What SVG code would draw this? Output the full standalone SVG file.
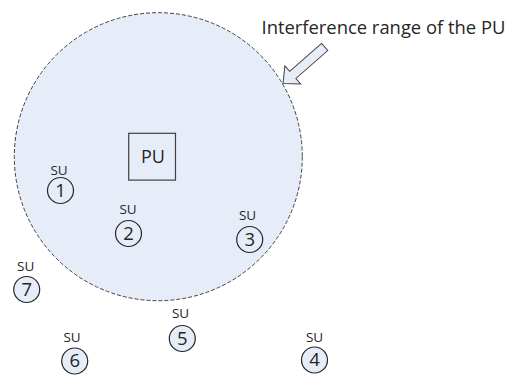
<svg xmlns="http://www.w3.org/2000/svg" width="509" height="375" viewBox="0 0 509 375">
<style>
  text { font-family: "Open Sans", "Noto Sans", "Liberation Sans", sans-serif; fill: #262626; }
  .range { fill: #e7edf8; stroke: #404040; stroke-width: 1; stroke-dasharray: 4 2; }
  .pu { fill: none; stroke: #404040; stroke-width: 1.2; }
  .su { fill: #e7edf8; stroke: #262626; stroke-width: 1.2; }
  .lbl { font-size: 13.5px; text-anchor: middle; }
  .num { font-size: 18.5px; text-anchor: middle; }
  .pulbl { font-size: 18px; text-anchor: middle; }
  .title { font-size: 18.4px; }
  .blk { fill: #e7edf8; stroke: #404040; stroke-width: 1; stroke-linejoin: miter; }
</style>
<rect width="509" height="375" fill="#ffffff"/>
<g id="range">
  <circle class="range" cx="158.3" cy="156.7" r="144"/>
</g>
<g id="title">
  <text class="title" x="261.5" y="34.3">Interference range of the PU</text>
</g>
<g id="connectors">
  <polygon class="blk" transform="translate(283,83.5) rotate(138.8)" points="0,0 -13,-12 -13,-4.7 -55.4,-4.7 -55.4,4.7 -13,4.7 -13,12"/>
</g>
<g id="PU">
  <rect class="pu" x="128.7" y="133.3" width="46.8" height="46.8"/>
  <text class="pulbl" x="153" y="162.8">PU</text>
</g>
<g id="SU1">
  <text class="lbl" x="59" y="174.5">SU</text>
  <circle class="su" cx="60.5" cy="190.5" r="13"/>
  <text class="num" x="60.5" y="196.7">1</text>
</g>
<g id="SU2">
  <text class="lbl" x="128" y="213.5">SU</text>
  <circle class="su" cx="128.5" cy="233.5" r="13"/>
  <text class="num" x="128.5" y="239.7">2</text>
</g>
<g id="SU3">
  <text class="lbl" x="247.5" y="219.5">SU</text>
  <circle class="su" cx="249.7" cy="239.5" r="13"/>
  <text class="num" x="249.7" y="245.7">3</text>
</g>
<g id="SU4">
  <text class="lbl" x="314.5" y="341.7">SU</text>
  <circle class="su" cx="314.5" cy="360" r="13"/>
  <text class="num" x="314.5" y="366.2">4</text>
</g>
<g id="SU5">
  <text class="lbl" x="180.5" y="318">SU</text>
  <circle class="su" cx="182.3" cy="338.5" r="13"/>
  <text class="num" x="182.3" y="344.7">5</text>
</g>
<g id="SU6">
  <text class="lbl" x="72" y="341.5">SU</text>
  <circle class="su" cx="74.7" cy="361" r="13"/>
  <text class="num" x="74.7" y="367.2">6</text>
</g>
<g id="SU7">
  <text class="lbl" x="25.7" y="270.5">SU</text>
  <circle class="su" cx="26.7" cy="289.5" r="13"/>
  <text class="num" x="26.7" y="295.7">7</text>
</g>
</svg>
